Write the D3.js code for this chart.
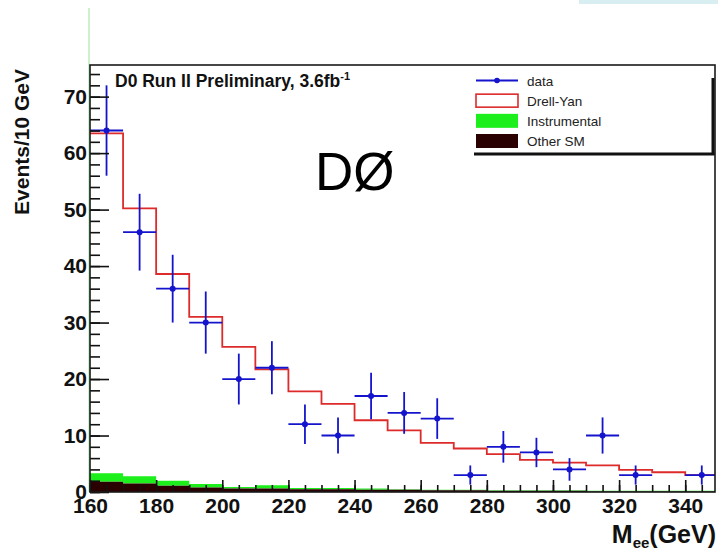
<!doctype html>
<html lang="en">
<head>
<meta charset="utf-8">
<style>
html, body { margin: 0; padding: 0; background: #fff; overflow: hidden; }
svg { display: block; font-family: "Liberation Sans", Arial, Helvetica, sans-serif; }
.axis path { display: none; }
.axis line { stroke: #111; stroke-width: 1.6px; }
.axis text { font-weight: bold; fill: #111; }
</style>
</head>
<body>
<svg id="chart" width="718" height="550"></svg>
<script src="https://cdn.jsdelivr.net/npm/d3@7"></script>
<script>
// bins of 10 GeV starting at 160
const binLow = [160, 170, 180, 190, 200, 210, 220, 230, 240, 250, 260, 270, 280, 290, 300, 310, 320, 330, 340];
const drellYan = [63.5, 50.2, 38.6, 31.0, 25.7, 21.7, 17.8, 15.6, 12.7, 10.9, 8.7, 7.7, 6.7, 5.7, 5.2, 4.7, 3.9, 3.5, 3.0];
const otherSM = [1.8, 1.5, 1.1, 0.8, 0.6, 0.6, 0.5, 0.5, 0.4, 0.4, 0.3, 0.3, 0.2, 0.2, 0.2, 0.1, 0.1, 0.1, 0.1];
const instrumental = [1.5, 1.3, 0.9, 0.6, 0.3, 0.6, 0.2, 0.2, 0.2, 0.1, 0.1, 0.1, 0.1, 0.1, 0.1, 0.1, 0.1, 0.1, 0.1];
const dataCounts = [64, 46, 36, 30, 20, 22, 12, 10, 17, 14, 13, 3, 8, 7, 4, 10, 3, 0, 3];
const dataErrors = [8, 6.8, 6, 5.5, 4.5, 4.7, 3.5, 3.2, 4.1, 3.7, 3.6, 1.7, 2.8, 2.6, 2, 3.2, 1.7, 0, 1.7];
const binWidth = 10;
const xTicks = [160, 180, 200, 220, 240, 260, 280, 300, 320, 340];
const yTicks = [0, 10, 20, 30, 40, 50, 60, 70];
const legendItems = ['data', 'Drell-Yan', 'Instrumental', 'Other SM'];

const blue = '#1414cc', red = '#dd2b2b', green = '#1cef1c', brown = '#2b0000';

const svg = d3.select('#chart');
const frame = {left: 90, right: 715, top: 65, bottom: 492};

const x = d3.scaleLinear().domain([160, 349]).range([frame.left, frame.right]);
const y = d3.scaleLinear().domain([0, 75.6]).range([frame.bottom, frame.top]);

// little artefacts at the top of the image
svg.append('rect').attr('x', 579).attr('y', 0).attr('width', 139).attr('height', 4).attr('fill', '#d8eef0');
svg.append('line').attr('x1', frame.left - 1).attr('x2', frame.left - 1).attr('y1', 8).attr('y2', frame.bottom)
    .attr('stroke', '#9fe09f').attr('stroke-width', 1);

svg.append('clipPath').attr('id', 'clip').append('rect')
    .attr('x', frame.left).attr('y', frame.top)
    .attr('width', frame.right - frame.left).attr('height', frame.bottom - frame.top);

const plot = svg.append('g').attr('clip-path', 'url(#clip)');

// histogram helpers: one point per bin low edge plus the closing edge
const bins = binLow.map((lo, i) => ({lo, dy: drellYan[i], sm: otherSM[i], ins: instrumental[i]}));
const stepPts = bins.concat([Object.assign({}, bins[bins.length - 1], {lo: binLow[binLow.length - 1] + binWidth})]);

plot.append('path').datum(stepPts)
    .attr('fill', green)
    .attr('d', d3.area().curve(d3.curveStepAfter)
        .x(d => x(d.lo)).y0(d => y(d.sm)).y1(d => y(d.sm + d.ins)));
plot.append('path').datum(stepPts)
    .attr('fill', brown)
    .attr('d', d3.area().curve(d3.curveStepAfter)
        .x(d => x(d.lo)).y0(y(0)).y1(d => y(d.sm)));
plot.append('path').datum(stepPts)
    .attr('fill', 'none').attr('stroke', red).attr('stroke-width', 1.8)
    .attr('d', d3.line().curve(d3.curveStepAfter).x(d => x(d.lo)).y(d => y(d.dy)));

// axes: ROOT style, ticks drawn inside the frame
const yMinor = d3.range(0, 76, 2);
svg.append('g').attr('class', 'axis').attr('transform', `translate(${frame.left},0)`)
    .call(d3.axisLeft(y).tickValues(yMinor).tickSize(-10).tickFormat(''));
svg.append('g').attr('class', 'axis').attr('transform', `translate(${frame.left},0)`)
    .call(d3.axisLeft(y).tickValues(yTicks).tickSize(-19).tickPadding(3))
    .selectAll('text').style('font-size', '21px');

const xMinor = d3.range(160, 350, 5);
svg.append('g').attr('class', 'axis').attr('transform', `translate(0,${frame.bottom})`)
    .call(d3.axisBottom(x).tickValues(xMinor).tickSize(-7).tickFormat(''));
svg.append('g').attr('class', 'axis').attr('transform', `translate(0,${frame.bottom})`)
    .call(d3.axisBottom(x).tickValues(xTicks).tickSize(-12).tickPadding(6))
    .selectAll('text').style('font-size', '21px');

// data points with error bars
const pts = binLow.map((lo, i) => ({c: lo + binWidth / 2, n: dataCounts[i], e: dataErrors[i]})).filter(d => d.n > 0);
const dg = plot.append('g').attr('stroke', blue).attr('stroke-width', 1.8);
dg.selectAll('.ex').data(pts).join('line')
    .attr('x1', d => x(d.c - binWidth / 2)).attr('x2', d => x(d.c + binWidth / 2))
    .attr('y1', d => y(d.n)).attr('y2', d => y(d.n));
dg.selectAll('.ey').data(pts).join('line').attr('class', 'ey')
    .attr('x1', d => x(d.c)).attr('x2', d => x(d.c))
    .attr('y1', d => y(d.n + d.e)).attr('y2', d => y(d.n - d.e));
plot.append('g').selectAll('circle').data(pts).join('circle')
    .attr('cx', d => x(d.c)).attr('cy', d => y(d.n)).attr('r', 3).attr('fill', blue);

// frame
svg.append('rect').attr('x', frame.left).attr('y', frame.top)
    .attr('width', frame.right - frame.left).attr('height', frame.bottom - frame.top)
    .attr('fill', 'none').attr('stroke', '#1a1a1a').attr('stroke-width', 1.6);

// texts
const title = svg.append('text').attr('x', 115).attr('y', 87)
    .attr('font-weight', 'bold').attr('font-size', 17.5).attr('fill', '#111');
title.append('tspan').text('D0 Run II Preliminary, 3.6fb');
title.append('tspan').attr('font-size', 11).attr('dy', -7).text('-1');

svg.append('text').attr('x', 315).attr('y', 190).attr('font-size', 53).attr('fill', '#000').text('DØ');

svg.append('text').attr('transform', 'translate(29,142) rotate(-90)')
    .attr('text-anchor', 'middle').attr('font-weight', 'bold').attr('font-size', 21).attr('fill', '#111')
    .text('Events/10 GeV');

const xt = svg.append('text').attr('x', 716).attr('y', 543).attr('text-anchor', 'end')
    .attr('font-weight', 'bold').attr('font-size', 25).attr('fill', '#111');
xt.append('tspan').text('M');
xt.append('tspan').attr('font-size', 15).attr('dy', 5).text('ee');
xt.append('tspan').attr('dy', -5).text('(GeV)');

// legend
const lg = svg.append('g');
lg.append('line').attr('x1', 713).attr('x2', 713).attr('y1', 78).attr('y2', 155).attr('stroke', '#111').attr('stroke-width', 3);
lg.append('line').attr('x1', 474).attr('x2', 714.5).attr('y1', 154).attr('y2', 154).attr('stroke', '#111').attr('stroke-width', 3);
const rowY = d3.scalePoint().domain(legendItems).range([80.5, 141]);
const sx0 = 476, sx1 = 518;
lg.append('line').attr('x1', sx0).attr('x2', sx1).attr('y1', rowY('data')).attr('y2', rowY('data'))
    .attr('stroke', blue).attr('stroke-width', 1.8);
lg.append('circle').attr('cx', (sx0 + sx1) / 2).attr('cy', rowY('data')).attr('r', 2.8).attr('fill', blue);
lg.append('rect').attr('x', sx0).attr('y', rowY('Drell-Yan') - 6.5).attr('width', sx1 - sx0).attr('height', 13)
    .attr('fill', '#fff').attr('stroke', red).attr('stroke-width', 1.6);
lg.append('rect').attr('x', sx0).attr('y', rowY('Instrumental') - 7).attr('width', sx1 - sx0).attr('height', 14)
    .attr('fill', green);
lg.append('rect').attr('x', sx0).attr('y', rowY('Other SM') - 7).attr('width', sx1 - sx0).attr('height', 14)
    .attr('fill', brown);
lg.selectAll('.lt').data(legendItems).join('text')
    .attr('x', 527).attr('y', d => rowY(d) + 5)
    .attr('font-size', 13.5).attr('fill', '#222').text(d => d);
</script>
</body>
</html>
